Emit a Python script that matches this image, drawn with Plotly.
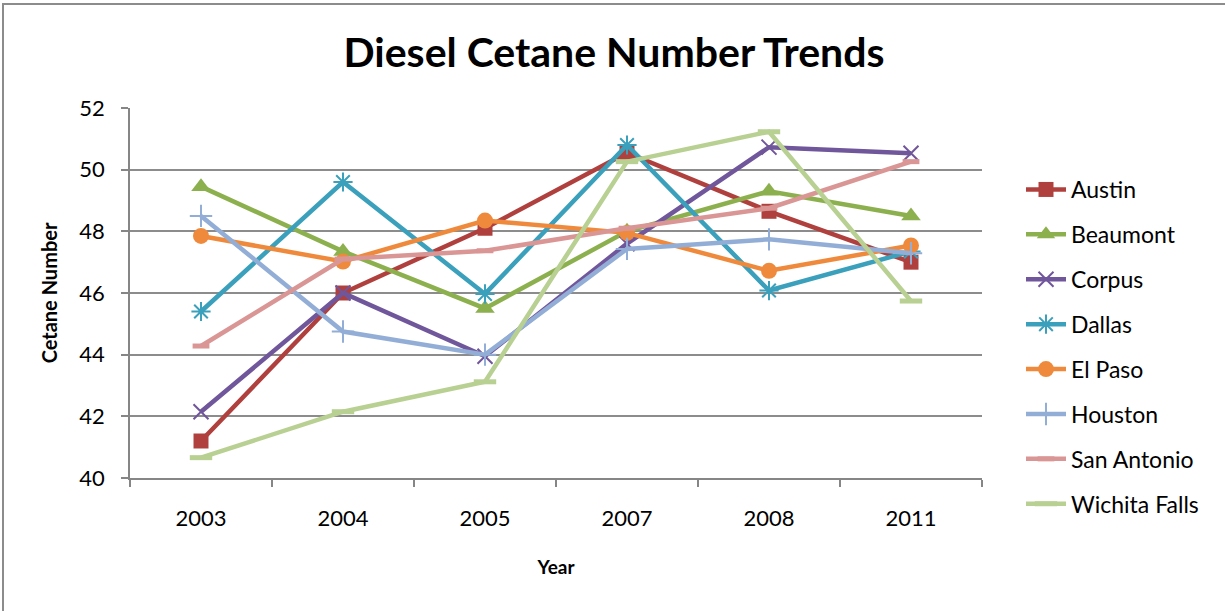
import plotly.graph_objects as go

years = ["2003", "2004", "2005", "2007", "2008", "2011"]

austin = [41.2, 46.0, 48.1, 50.55, 48.65, 47.0]
beaumont = [49.45, 47.35, 45.5, 48.0, 49.3, 48.5]
corpus = [42.15, 46.0, 43.95, 47.6, 50.73, 50.53]
dallas = [45.4, 49.6, 45.97, 50.8, 46.08, 47.35]
el_paso = [47.85, 47.02, 48.35, 47.95, 46.72, 47.54]
houston = [48.5, 44.75, 44.0, 47.43, 47.74, 47.29]
san_antonio = [44.28, 47.1, 47.37, 48.1, 48.75, 50.26]
wichita_falls = [40.66, 42.15, 43.12, 50.26, 51.23, 45.74]

series = [
    ("Austin", austin, "#B0403D", "square", 15),
    ("Beaumont", beaumont, "#8DB04E", "triangle-up", 17),
    ("Corpus", corpus, "#70569A", "x-thin", 15),
    ("Dallas", dallas, "#3AA0BB", "asterisk", 16),
    ("El Paso", el_paso, "#EF8A3C", "circle", 16),
    ("Houston", houston, "#93AED6", "cross-thin", 16),
    ("San Antonio", san_antonio, "#D99694", "line-ew", 12),
    ("Wichita Falls", wichita_falls, "#B8D092", "line-ew", 16),
]

FONT = "Lato"

fig = go.Figure()
for name, vals, color, symbol, size in series:
    thin = symbol in ("x-thin", "asterisk", "cross-thin", "line-ew")
    fig.add_trace(go.Scatter(
        x=years, y=vals, name=name, mode="lines+markers",
        legendgroup=name,
        line=dict(color=color, width=4.5),
        marker=dict(
            symbol=symbol, size=size, color=color,
            line=dict(color=color, width=2 if symbol != "line-ew" else 5) if thin else dict(width=0),
        ),
    ))

# plot area spans x 130..982, y 108..478 px of a 1225x611 page
L, R, T, B = 130, 243, 108, 133
W, H = 1225 - L - R, 611 - T - B

fig.update_layout(
    width=1225, height=611,
    margin=dict(l=L, r=R, t=T, b=B),
    paper_bgcolor="white", plot_bgcolor="white",
    font=dict(family=FONT, color="#000000"),
    title=dict(text="<b>Diesel Cetane Number Trends</b>", x=614 / 1225, xanchor="center",
               y=1 - 53 / 611, yanchor="middle", font=dict(size=41, family=FONT)),
    xaxis=dict(
        type="category", range=[-0.5, 5.5], tickson="boundaries",
        showgrid=False, showline=True, linecolor="#868686", linewidth=1.5,
        ticks="outside", ticklen=7, tickcolor="#868686", tickwidth=1.5,
        tickfont=dict(size=22, family=FONT), ticklabelstandoff=20,
        title=dict(text="<b>Year</b>", font=dict(size=19, family=FONT), standoff=31),
    ),
    yaxis=dict(
        range=[40, 52], dtick=2, tick0=40,
        showgrid=True, gridcolor="#8C8C8C", gridwidth=1.5,
        showline=True, linecolor="#868686", linewidth=1.5,
        ticks="outside", ticklen=7, tickcolor="#868686", tickwidth=1.5,
        tickfont=dict(size=22, family=FONT), zeroline=False, ticklabelstandoff=12,
        title=dict(text="<b>Cetane Number</b>", font=dict(size=20, family=FONT), standoff=16),
    ),
    legend=dict(
        x=(1021 - L) / W, y=(478 - 168) / H, xanchor="left", yanchor="top",
        font=dict(size=23, family=FONT), tracegroupgap=12,
        bgcolor="rgba(0,0,0,0)", itemwidth=40, maxheight=560,
    ),
    showlegend=True,
)

# outer chart frame (only its top and left edges fall on the page)
fig.add_shape(type="rect", xref="paper", yref="paper",
              x0=(3 - L) / W, x1=(1240 - L) / W, y0=-(630 - 478) / H, y1=1 + (T - 4) / H,
              line=dict(color="#8C8C8C", width=2), fillcolor="rgba(0,0,0,0)", layer="below")

fig.write_html("out.html")
